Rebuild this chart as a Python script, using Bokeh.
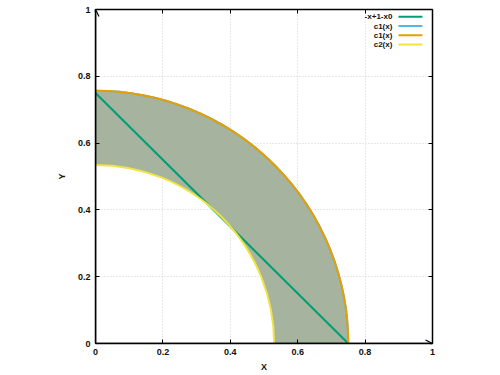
import numpy as np
from bokeh.plotting import figure
from bokeh.models import Range1d, LinearAxis, FixedTicker, Arrow, OpenHead, Label
from bokeh.embed import file_html
from bokeh.resources import INLINE

# ---- data ----
x0 = 0.25                      # line: y = -x + 1 - x0
r_c1 = 0.75                    # c1(x): outer quarter circle radius
r_c2 = 0.53                    # c2(x): inner quarter circle radius
line_x = [0.0, 1 - x0]
line_y = [1 - x0, 0.0]
tick_values = [0, 0.2, 0.4, 0.6, 0.8, 1]
tick_labels = ["0", "0.2", "0.4", "0.6", "0.8", "1"]
legend_names = ["-x+1-x0", "c1(x)", "c1(x)", "c2(x)"]
legend_colors = ["#009e73", "#56b4e9", "#e69f00", "#f0e442"]

FONT = "Liberation Sans"

p = figure(width=499, height=374, x_range=Range1d(0, 1), y_range=Range1d(0, 1),
           output_backend="svg", toolbar_location=None,
           min_border_left=95, min_border_right=67, min_border_top=9, min_border_bottom=30)
p.outline_line_color = None
p.background_fill_color = "white"
p.border_fill_color = "white"

ticker = FixedTicker(ticks=tick_values)
overrides = {v: s for v, s in zip(tick_values, tick_labels)}

for ax in (p.xaxis[0], p.yaxis[0]):
    ax.ticker = ticker
    ax.major_label_overrides = overrides
    ax.major_tick_in = 4
    ax.major_tick_out = 0
    ax.minor_tick_in = 0
    ax.minor_tick_out = 0
    ax.axis_line_width = 1.5
    ax.axis_line_color = "black"
    ax.major_tick_line_color = "black"
    ax.major_label_text_font = FONT
    ax.major_label_text_font_size = "9px"
    ax.major_label_text_font_style = "bold"
    ax.major_label_text_color = "#111111"
    ax.axis_label_text_font = FONT
    ax.axis_label_text_font_size = "9px"
    ax.axis_label_text_font_style = "bold"
    ax.axis_label_text_color = "#111111"

p.xaxis[0].axis_label = "X"
p.yaxis[0].axis_label = "Y"
p.xaxis[0].major_label_standoff = 5
p.xaxis[0].axis_label_standoff = 4
p.yaxis[0].major_label_standoff = 5
p.yaxis[0].axis_label_standoff = 8

# mirrored border axes (ticks only, no labels)
blank = {v: "" for v in tick_values}
for loc in ("above", "right"):
    ax = LinearAxis(ticker=ticker, major_label_overrides=blank,
                    major_label_text_font_size="9px",
                    major_label_standoff=0, major_tick_in=4, major_tick_out=0,
                    minor_tick_in=0, minor_tick_out=0, axis_line_width=1.5,
                    axis_line_color="black", major_tick_line_color="black")
    p.add_layout(ax, loc)

p.grid.ticker = ticker
p.grid.grid_line_color = "#d0d0d0"
p.grid.grid_line_dash = "1 2"
p.grid.grid_line_width = 1

# filled annulus between c2 and c1
p.annular_wedge(x=[0], y=[0], inner_radius=[r_c2], outer_radius=[r_c1],
                start_angle=[0], end_angle=[np.pi / 2],
                fill_color="#a5b39f", line_color=None)

# line -x+1-x0
p.line(line_x, line_y, line_color=legend_colors[0], line_width=2)
# c1 (twice) and c2
p.arc(x=[0], y=[0], radius=[r_c1], start_angle=[0], end_angle=[np.pi / 2],
      line_color=legend_colors[1], line_width=2)
p.arc(x=[0], y=[0], radius=[r_c1], start_angle=[0], end_angle=[np.pi / 2],
      line_color=legend_colors[2], line_width=2)
p.arc(x=[0], y=[0], radius=[r_c2], start_angle=[0], end_angle=[np.pi / 2],
      line_color=legend_colors[3], line_width=2)

# axis arrows
p.add_layout(Arrow(end=OpenHead(size=7, line_width=1.2, line_color="black"),
                   x_start=0, y_start=0, x_end=1, y_end=0,
                   line_color="black", line_width=1.5))
p.add_layout(Arrow(end=OpenHead(size=7, line_width=1.2, line_color="black"),
                   x_start=0, y_start=0, x_end=0, y_end=1,
                   line_color="black", line_width=1.5))

# legend (gnuplot style: label, then line sample)
for i, (name, col) in enumerate(zip(legend_names, legend_colors)):
    yy = 0.978 - i * 0.0275
    p.add_layout(Label(x=0.881, y=yy, text=name, text_align="right",
                       text_baseline="middle", text_font=FONT,
                       text_font_size="8px", text_font_style="bold",
                       text_color="#111111"))
    p.add_layout(Arrow(end=None, x_start=0.899, y_start=yy, x_end=0.970, y_end=yy,
                       line_color=col, line_width=2))

open("out.html", "w").write(file_html(p, INLINE))
